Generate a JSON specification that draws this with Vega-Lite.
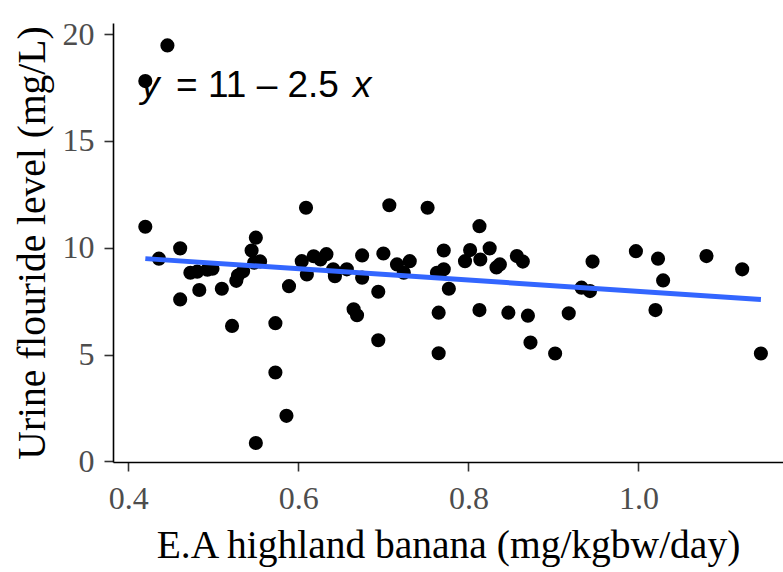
{
  "$schema": "https://vega.github.io/schema/vega-lite/v6.json",
  "width": 670,
  "height": 439,
  "autosize": "none",
  "padding": {"left": 113, "top": 23, "right": 0, "bottom": 110},
  "background": "white",
  "config": {"view": {"stroke": null}},
  "datasets": {
    "pts": [
      {"x": 0.446, "y": 19.47}, {"x": 0.420, "y": 17.8}, {"x": 0.609, "y": 11.87}, {"x": 0.420, "y": 10.98},
      {"x": 0.436, "y": 9.49}, {"x": 0.461, "y": 9.97}, {"x": 0.473, "y": 8.83}, {"x": 0.481, "y": 8.88},
      {"x": 0.493, "y": 8.97}, {"x": 0.499, "y": 9.02}, {"x": 0.4835, "y": 8.02}, {"x": 0.461, "y": 7.58},
      {"x": 0.510, "y": 8.08}, {"x": 0.527, "y": 8.45}, {"x": 0.529, "y": 8.7}, {"x": 0.535, "y": 8.9},
      {"x": 0.545, "y": 9.87}, {"x": 0.550, "y": 10.47}, {"x": 0.555, "y": 9.36}, {"x": 0.548, "y": 9.3},
      {"x": 0.522, "y": 6.34}, {"x": 0.573, "y": 6.47}, {"x": 0.589, "y": 8.2}, {"x": 0.604, "y": 9.37},
      {"x": 0.610, "y": 8.75}, {"x": 0.618, "y": 9.6}, {"x": 0.626, "y": 9.45}, {"x": 0.633, "y": 9.7},
      {"x": 0.573, "y": 4.16}, {"x": 0.586, "y": 2.13}, {"x": 0.550, "y": 0.86}, {"x": 0.707, "y": 11.99},
      {"x": 0.752, "y": 11.87}, {"x": 0.813, "y": 11.01}, {"x": 0.771, "y": 9.87}, {"x": 0.802, "y": 9.89},
      {"x": 0.825, "y": 9.97}, {"x": 0.857, "y": 9.61}, {"x": 0.864, "y": 9.35}, {"x": 0.837, "y": 9.22},
      {"x": 0.833, "y": 9.08}, {"x": 0.796, "y": 9.37}, {"x": 0.814, "y": 9.45}, {"x": 0.771, "y": 8.99},
      {"x": 0.763, "y": 8.83}, {"x": 0.777, "y": 8.08}, {"x": 0.765, "y": 6.96}, {"x": 0.765, "y": 5.06},
      {"x": 0.813, "y": 7.08}, {"x": 0.847, "y": 6.96}, {"x": 0.870, "y": 6.82}, {"x": 0.873, "y": 5.56},
      {"x": 0.694, "y": 7.94}, {"x": 0.694, "y": 5.67}, {"x": 0.665, "y": 7.12}, {"x": 0.669, "y": 6.84},
      {"x": 0.700, "y": 9.73}, {"x": 0.716, "y": 9.22}, {"x": 0.724, "y": 8.83}, {"x": 0.731, "y": 9.37},
      {"x": 0.675, "y": 9.64}, {"x": 0.675, "y": 8.6}, {"x": 0.643, "y": 8.67}, {"x": 0.641, "y": 8.99},
      {"x": 0.657, "y": 8.99}, {"x": 0.946, "y": 9.35}, {"x": 0.997, "y": 9.84}, {"x": 1.023, "y": 9.49},
      {"x": 1.029, "y": 8.47}, {"x": 1.080, "y": 9.61}, {"x": 1.122, "y": 8.99}, {"x": 0.933, "y": 8.13},
      {"x": 0.943, "y": 7.97}, {"x": 1.020, "y": 7.08}, {"x": 0.918, "y": 6.93}, {"x": 0.902, "y": 5.05},
      {"x": 1.144, "y": 5.05}
    ],
    "fit": [{"x": 0.420, "y": 9.49}, {"x": 1.144, "y": 7.58}],
    "lab": [{"x": 0.415, "y": 17.07}]
  },
  "layer": [
    {
      "data": {"name": "pts"},
      "mark": {"type": "circle", "color": "black", "opacity": 1, "size": 200},
      "encoding": {
        "x": {
          "field": "x", "type": "quantitative",
          "scale": {"domain": [0.382, 1.170], "nice": false, "zero": false},
          "axis": {
            "title": "E.A highland banana (mg/kgbw/day)",
            "values": [0.4, 0.6, 0.8, 1.0],
            "format": ".1f",
            "grid": false,
            "domainColor": "black", "domainWidth": 1.6,
            "tickColor": "#333333", "tickWidth": 1.6, "tickSize": 9,
            "labelFont": "Liberation Serif", "labelFontSize": 32, "labelColor": "#4D4D4D",
            "labelPadding": 12,
            "titleFont": "Liberation Serif", "titleFontSize": 39.5, "titleFontWeight": "normal",
            "titleColor": "black", "titlePadding": 12
          }
        },
        "y": {
          "field": "y", "type": "quantitative",
          "scale": {"domain": [-0.03, 20.52], "nice": false, "zero": false},
          "axis": {
            "title": "Urine flouride level (mg/L)",
            "values": [0, 5, 10, 15, 20],
            "grid": false,
            "domainColor": "black", "domainWidth": 1.6,
            "tickColor": "#333333", "tickWidth": 1.6, "tickSize": 9,
            "labelFont": "Liberation Serif", "labelFontSize": 32, "labelColor": "#4D4D4D",
            "labelPadding": 10,
            "titleFont": "Liberation Serif", "titleFontSize": 39.5, "titleFontWeight": "normal",
            "titleColor": "black", "titlePadding": 10
          }
        }
      }
    },
    {
      "data": {"name": "fit"},
      "mark": {"type": "line", "color": "#3366FF", "strokeWidth": 5},
      "encoding": {
        "x": {"field": "x", "type": "quantitative"},
        "y": {"field": "y", "type": "quantitative"}
      }
    },
    {
      "data": {"name": "lab"},
      "mark": {"type": "text", "text": "y", "font": "Liberation Sans", "fontSize": 37, "fontStyle": "italic", "align": "left", "baseline": "alphabetic", "color": "black"},
      "encoding": {
        "x": {"field": "x", "type": "quantitative"},
        "y": {"field": "y", "type": "quantitative"}
      }
    },
    {
      "data": {"name": "lab"},
      "mark": {"type": "text", "text": "= 11 – 2.5", "font": "Liberation Sans", "fontSize": 37, "align": "left", "baseline": "alphabetic", "dx": 35, "color": "black"},
      "encoding": {
        "x": {"field": "x", "type": "quantitative"},
        "y": {"field": "y", "type": "quantitative"}
      }
    },
    {
      "data": {"name": "lab"},
      "mark": {"type": "text", "text": "x", "font": "Liberation Sans", "fontSize": 37, "fontStyle": "italic", "align": "left", "baseline": "alphabetic", "dx": 212, "color": "black"},
      "encoding": {
        "x": {"field": "x", "type": "quantitative"},
        "y": {"field": "y", "type": "quantitative"}
      }
    }
  ]
}
